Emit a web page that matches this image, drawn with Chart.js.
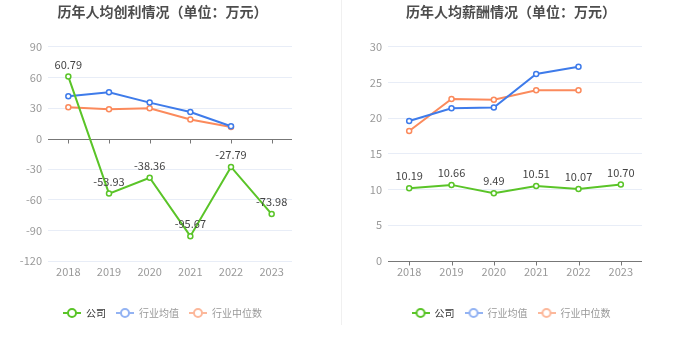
<!DOCTYPE html>
<html>
<head>
<meta charset="utf-8">
<script src="https://cdn.jsdelivr.net/npm/chart.js@4.4.0/dist/chart.umd.min.js"></script>
<style>
    html, body { margin: 0; padding: 0; background: #fff; }
    #wrap { position: relative; width: 680px; height: 349px; overflow: hidden; }
    #profitChart { position: absolute; left: 0; top: 0; }
    #salaryChart { position: absolute; left: 342px; top: 0; }
    #divider { position: absolute; left: 341px; top: 0; width: 1px; height: 325px; background: #f0f0f0; }
</style>
</head>
<body>
<div id="wrap">
    <canvas id="profitChart" width="325" height="349"></canvas>
    <div id="divider"></div>
    <canvas id="salaryChart" width="338" height="349"></canvas>
</div>
<script>
// data
const years = ['2018', '2019', '2020', '2021', '2022', '2023'];
const seriesNames = ['公司', '行业均值', '行业中位数'];

const profitCompany = [60.79, -53.93, -38.36, -95.67, -27.79, -73.98];
const profitMean = [41.6, 45.5, 35.3, 26.0, 12.1, null];
const profitMedian = [30.8, 28.8, 29.8, 18.7, 11.4, null];

const salaryCompany = [10.19, 10.66, 9.49, 10.51, 10.07, 10.70];
const salaryMean = [19.6, 21.4, 21.5, 26.2, 27.2, null];
const salaryMedian = [18.2, 22.7, 22.6, 23.9, 23.9, null];

const profitAxis = [-120, 90, 30];   // min, max, step
const salaryAxis = [0, 30, 5];

const GREEN = '#5ac428';
const BLUE = '#3e7bea';
const ORANGE = '#fb8a5c';
const legendColors = ['#5ac428', '#93b3f3', '#fcb89b'];
const legendText = ['#333', '#999', '#999'];

Chart.defaults.font.family = '"Noto Sans CJK SC", "Liberation Sans", sans-serif';

// little line + ring icon for the legend
const makeIcon = (color) => {
    const c = document.createElement('canvas');
    c.width = 18; c.height = 10;
    const g = c.getContext('2d');
    g.strokeStyle = color;
    g.lineWidth = 2;
    g.beginPath(); g.moveTo(0, 5); g.lineTo(18, 5); g.stroke();
    g.beginPath(); g.arc(9, 5, 4, 0, Math.PI * 2);
    g.fillStyle = '#fff'; g.fill(); g.stroke();
    return c;
};
const icons = legendColors.map(makeIcon);

// axis line at value 0 with small ticks under each category
const zeroAxis = {
    id: 'zeroAxis',
    beforeDatasetsDraw(chart) {
        const { ctx, chartArea, scales: { x, y } } = chart;
        const y0 = Math.round(y.getPixelForValue(0)) + 0.5;
        ctx.save();
        ctx.strokeStyle = '#777';
        ctx.lineWidth = 1;
        ctx.beginPath();
        ctx.moveTo(chartArea.left, y0);
        ctx.lineTo(chartArea.right, y0);
        x.ticks.forEach((t, i) => {
            const px = Math.round(x.getPixelForTick(i)) + 0.5;
            ctx.moveTo(px, y0);
            ctx.lineTo(px, y0 + 4);
        });
        ctx.stroke();
        ctx.restore();
    }
};

// value labels above the company series
const valueLabels = {
    id: 'valueLabels',
    afterDatasetsDraw(chart) {
        const { ctx } = chart;
        const meta = chart.getDatasetMeta(0);
        const data = chart.data.datasets[0].data;
        ctx.save();
        ctx.font = '11px "Noto Sans CJK SC", "Liberation Sans", sans-serif';
        ctx.fillStyle = '#444';
        ctx.textAlign = 'center';
        ctx.textBaseline = 'middle';
        meta.data.forEach((pt, i) => {
            ctx.fillText(data[i].toFixed(2), pt.x, pt.y - 12);
        });
        ctx.restore();
    }
};

const lineSet = (label, data, color) => ({
    label: label,
    data: data,
    borderColor: color,
    backgroundColor: '#fff',
    borderWidth: 2,
    pointRadius: 2.5,
    pointBorderWidth: 1.5,
    pointBackgroundColor: '#fff',
    pointBorderColor: color,
    tension: 0,
    clip: false
});

const buildChart = (canvasId, title, company, mean, median, axis, yWidth, rightWidth) => {
    const ctx = document.getElementById(canvasId);
    return new Chart(ctx, {
        type: 'line',
        data: {
            labels: years,
            datasets: [
                lineSet(seriesNames[0], company, GREEN),
                lineSet(seriesNames[1], mean, BLUE),
                lineSet(seriesNames[2], median, ORANGE)
            ]
        },
        options: {
            responsive: false,
            animation: false,
            layout: { padding: { bottom: 21 } },
            plugins: {
                title: {
                    display: true,
                    text: title,
                    color: '#4d4d4d',
                    font: { size: 14, weight: 'bold' },
                    padding: { top: 3, bottom: 27 }
                },
                legend: {
                    position: 'bottom',
                    labels: {
                        usePointStyle: true,
                        pointStyleWidth: 18,
                        boxHeight: 10,
                        padding: 10,
                        font: { size: 10 },
                        generateLabels: (chart) => chart.data.datasets.map((ds, i) => ({
                            text: ds.label,
                            datasetIndex: i,
                            pointStyle: icons[i],
                            fillStyle: legendColors[i],
                            strokeStyle: legendColors[i],
                            lineWidth: 0,
                            fontColor: legendText[i],
                            hidden: false
                        }))
                    }
                },
                tooltip: { enabled: false }
            },
            scales: {
                x: {
                    offset: true,
                    grid: { display: false, drawTicks: false },
                    border: { display: false },
                    ticks: { color: '#999', padding: 4, font: { size: 11 } },
                    afterFit: (s) => { s.height = 37; }
                },
                y: {
                    min: axis[0],
                    max: axis[1],
                    ticks: { stepSize: axis[2], color: '#999', padding: 6, font: { size: 11 } },
                    grid: {
                        color: (c) => c.tick && c.tick.value === 0 ? 'rgba(0,0,0,0)' : '#e8edf7',
                        drawTicks: false
                    },
                    border: { display: false },
                    afterFit: (s) => { s.width = yWidth; }
                },
                yRight: {
                    position: 'right',
                    grid: { display: false, drawTicks: false },
                    ticks: { display: false },
                    border: { display: false },
                    afterFit: (s) => { s.width = rightWidth; }
                }
            }
        },
        plugins: [zeroAxis, valueLabels]
    });
};

buildChart('profitChart', '历年人均创利情况（单位：万元）', profitCompany, profitMean, profitMedian, profitAxis, 48, 33);
buildChart('salaryChart', '历年人均薪酬情况（单位：万元）', salaryCompany, salaryMean, salaryMedian, salaryAxis, 46, 38);
</script>
</body>
</html>
